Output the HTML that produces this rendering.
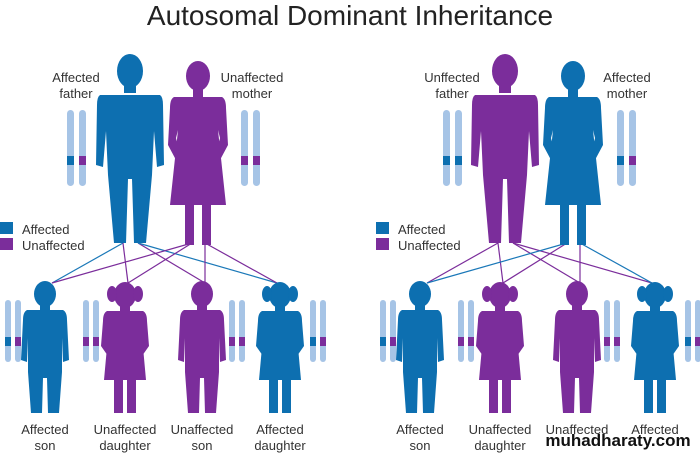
<!DOCTYPE html>
<html><head><meta charset="utf-8"><style>
body{margin:0;background:#fff}
svg{display:block}
text{font-family:"Liberation Sans",sans-serif;fill:#333}
</style></head><body>
<svg width="700" height="454" viewBox="0 0 700 454" xmlns="http://www.w3.org/2000/svg">
<defs>
<g id="man">
<ellipse cx="0" cy="18" rx="13" ry="17"/>
<rect x="-6" y="30" width="12" height="10"/>
<path d="M-30,42 L30,42 Q33,44 33,52 L34,112 L27,114 L24,78 L22,122 L16,190 L4,190 L2,126 L-2,126 L-4,190 L-16,190 L-22,122 L-24,78 L-27,114 L-34,112 L-33,52 Q-33,44 -30,42Z"/>
</g>
<g id="woman">
<ellipse cx="0" cy="16" rx="12" ry="15"/>
<rect x="-5" y="27" width="10" height="10"/>
<path d="M-24,37 L24,37 Q28,39 28,48 L30,85 L22,100 L18,95 L22,78 L20,70 L28,145 L-28,145 L-20,70 L-22,78 L-18,95 L-22,100 L-30,85 L-28,48 Q-28,39 -24,37Z"/>
<rect x="-13" y="140" width="9" height="45"/>
<rect x="4" y="140" width="9" height="45"/>
</g>
<g id="boy">
<ellipse cx="0" cy="14" rx="11" ry="13"/>
<rect x="-5" y="24" width="10" height="8"/>
<path d="M-18,30 L18,30 Q22,32 22,40 L24,80 L18,82 L17,58 L17,92 L14,133 L3,133 L2,98 L-2,98 L-3,133 L-14,133 L-17,92 L-17,58 L-18,82 L-24,80 L-22,40 Q-22,32 -18,30Z"/>
</g>
<g id="girl">
<ellipse cx="0" cy="15" rx="11" ry="13"/>
<ellipse cx="-13" cy="14" rx="5" ry="8"/>
<ellipse cx="13" cy="14" rx="5" ry="8"/>
<rect x="-5" y="24" width="10" height="8"/>
<path d="M-18,31 L18,31 Q22,33 22,41 L24,66 L17,76 L14,72 L17,62 L17,56 L21,100 L-21,100 L-17,56 L-17,62 L-14,72 L-17,76 L-24,66 L-22,41 Q-22,33 -18,31Z"/>
<rect x="-11" y="98" width="9" height="35"/>
<rect x="2" y="98" width="9" height="35"/>
</g>
</defs>

<text x="350" y="25" font-size="28" text-anchor="middle" style="fill:#222">Autosomal Dominant Inheritance</text>

<g stroke-width="1.2" fill="none">
<line x1="123" y1="243" x2="52" y2="283" stroke="#1a78b8"/>
<line x1="123" y1="243" x2="128" y2="283" stroke="#7b2d9b"/>
<line x1="138" y1="243" x2="205" y2="283" stroke="#7b2d9b"/>
<line x1="138" y1="243" x2="277" y2="283" stroke="#1a78b8"/>
<line x1="192" y1="243" x2="52" y2="283" stroke="#7b2d9b"/>
<line x1="192" y1="243" x2="128" y2="283" stroke="#7b2d9b"/>
<line x1="205" y1="243" x2="205" y2="283" stroke="#7b2d9b"/>
<line x1="205" y1="243" x2="277" y2="283" stroke="#7b2d9b"/>
</g>
<use href="#man" x="130" y="53" fill="#0d6fb0"/>
<use href="#woman" x="198" y="60" fill="#7b2d9b"/>
<use href="#boy" x="45" y="280" fill="#0d6fb0"/>
<use href="#girl" x="125" y="280" fill="#7b2d9b"/>
<use href="#boy" x="202" y="280" fill="#7b2d9b"/>
<use href="#girl" x="280" y="280" fill="#0d6fb0"/>

<g stroke-width="1.2" fill="none">
<line x1="498" y1="243" x2="427" y2="283" stroke="#7b2d9b"/>
<line x1="498" y1="243" x2="503" y2="283" stroke="#7b2d9b"/>
<line x1="513" y1="243" x2="580" y2="283" stroke="#7b2d9b"/>
<line x1="513" y1="243" x2="652" y2="283" stroke="#7b2d9b"/>
<line x1="567" y1="243" x2="427" y2="283" stroke="#1a78b8"/>
<line x1="567" y1="243" x2="503" y2="283" stroke="#7b2d9b"/>
<line x1="580" y1="243" x2="580" y2="283" stroke="#7b2d9b"/>
<line x1="580" y1="243" x2="652" y2="283" stroke="#1a78b8"/>
</g>
<use href="#man" x="505" y="53" fill="#7b2d9b"/>
<use href="#woman" x="573" y="60" fill="#0d6fb0"/>
<use href="#boy" x="420" y="280" fill="#0d6fb0"/>
<use href="#girl" x="500" y="280" fill="#7b2d9b"/>
<use href="#boy" x="577" y="280" fill="#7b2d9b"/>
<use href="#girl" x="655" y="280" fill="#0d6fb0"/>

<g fill="#a6c4e6">
<rect x="67" y="110" width="7" height="76" rx="3.5"/><rect x="79" y="110" width="7" height="76" rx="3.5"/>
<rect x="241" y="110" width="7" height="76" rx="3.5"/><rect x="253" y="110" width="7" height="76" rx="3.5"/>
<rect x="443" y="110" width="7" height="76" rx="3.5"/><rect x="455" y="110" width="7" height="76" rx="3.5"/>
<rect x="617" y="110" width="7" height="76" rx="3.5"/><rect x="629" y="110" width="7" height="76" rx="3.5"/>
<rect x="5" y="300" width="6" height="62" rx="3"/><rect x="15" y="300" width="6" height="62" rx="3"/>
<rect x="83" y="300" width="6" height="62" rx="3"/><rect x="93" y="300" width="6" height="62" rx="3"/>
<rect x="229" y="300" width="6" height="62" rx="3"/><rect x="239" y="300" width="6" height="62" rx="3"/>
<rect x="310" y="300" width="6" height="62" rx="3"/><rect x="320" y="300" width="6" height="62" rx="3"/>
<rect x="380" y="300" width="6" height="62" rx="3"/><rect x="390" y="300" width="6" height="62" rx="3"/>
<rect x="458" y="300" width="6" height="62" rx="3"/><rect x="468" y="300" width="6" height="62" rx="3"/>
<rect x="604" y="300" width="6" height="62" rx="3"/><rect x="614" y="300" width="6" height="62" rx="3"/>
<rect x="685" y="300" width="6" height="62" rx="3"/><rect x="695" y="300" width="6" height="62" rx="3"/>
</g>
<g>
<rect x="67" y="156" width="7" height="9" fill="#0d6fb0"/><rect x="79" y="156" width="7" height="9" fill="#7b2d9b"/>
<rect x="241" y="156" width="7" height="9" fill="#7b2d9b"/><rect x="253" y="156" width="7" height="9" fill="#7b2d9b"/>
<rect x="443" y="156" width="7" height="9" fill="#0d6fb0"/><rect x="455" y="156" width="7" height="9" fill="#0d6fb0"/>
<rect x="617" y="156" width="7" height="9" fill="#0d6fb0"/><rect x="629" y="156" width="7" height="9" fill="#7b2d9b"/>
<rect x="5" y="337" width="6" height="9" fill="#0d6fb0"/><rect x="15" y="337" width="6" height="9" fill="#7b2d9b"/>
<rect x="83" y="337" width="6" height="9" fill="#7b2d9b"/><rect x="93" y="337" width="6" height="9" fill="#7b2d9b"/>
<rect x="229" y="337" width="6" height="9" fill="#7b2d9b"/><rect x="239" y="337" width="6" height="9" fill="#7b2d9b"/>
<rect x="310" y="337" width="6" height="9" fill="#0d6fb0"/><rect x="320" y="337" width="6" height="9" fill="#7b2d9b"/>
<rect x="380" y="337" width="6" height="9" fill="#0d6fb0"/><rect x="390" y="337" width="6" height="9" fill="#7b2d9b"/>
<rect x="458" y="337" width="6" height="9" fill="#7b2d9b"/><rect x="468" y="337" width="6" height="9" fill="#7b2d9b"/>
<rect x="604" y="337" width="6" height="9" fill="#7b2d9b"/><rect x="614" y="337" width="6" height="9" fill="#7b2d9b"/>
<rect x="685" y="337" width="6" height="9" fill="#0d6fb0"/><rect x="695" y="337" width="6" height="9" fill="#7b2d9b"/>
</g>

<rect x="0" y="222" width="13" height="12" fill="#0d6fb0"/><rect x="0" y="238" width="13" height="12" fill="#7b2d9b"/>
<text x="22" y="234" font-size="13">Affected</text><text x="22" y="250" font-size="13">Unaffected</text>
<rect x="376" y="222" width="13" height="12" fill="#0d6fb0"/><rect x="376" y="238" width="13" height="12" fill="#7b2d9b"/>
<text x="398" y="234" font-size="13">Affected</text><text x="398" y="250" font-size="13">Unaffected</text>

<g font-size="13" text-anchor="middle">
<text x="76" y="82">Affected</text><text x="76" y="98">father</text>
<text x="252" y="82">Unaffected</text><text x="252" y="98">mother</text>
<text x="452" y="82">Unffected</text><text x="452" y="98">father</text>
<text x="627" y="82">Affected</text><text x="627" y="98">mother</text>
<text x="45" y="434">Affected</text><text x="45" y="450">son</text>
<text x="125" y="434">Unaffected</text><text x="125" y="450">daughter</text>
<text x="202" y="434">Unaffected</text><text x="202" y="450">son</text>
<text x="280" y="434">Affected</text><text x="280" y="450">daughter</text>
<text x="420" y="434">Affected</text><text x="420" y="450">son</text>
<text x="500" y="434">Unaffected</text><text x="500" y="450">daughter</text>
<text x="577" y="434">Unaffected</text>
<text x="655" y="434">Affected</text>
</g>
<text x="618" y="446" font-size="17" font-weight="bold" text-anchor="middle" style="fill:#111">muhadharaty.com</text>
</svg>
</body></html>
